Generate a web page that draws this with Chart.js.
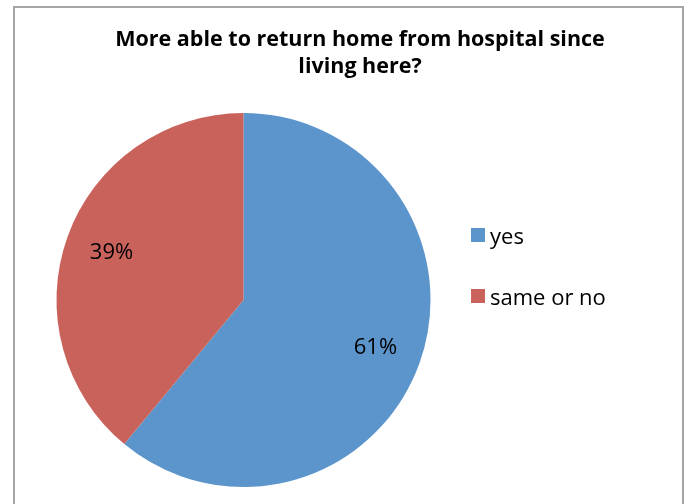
<!DOCTYPE html>
<html>
<head>
<meta charset="utf-8">
<script src="https://cdn.jsdelivr.net/npm/chart.js@4/dist/chart.umd.min.js"></script>
<style>
html,body{margin:0;padding:0;background:#fff;}
#wrap{position:absolute;left:0;top:0;width:689px;height:504px;}
</style>
</head>
<body>
<div id="wrap"><canvas id="c" width="689" height="504"></canvas></div>
<script>
const titleLines = ["More able to return home from hospital since", "living here?"];
const categories = ["yes", "same or no"];
const values = [61, 39];
const colors = ["#5C95CB", "#CA625C"];
const FONT = "'Open Sans', 'Liberation Sans', sans-serif";

const decor = {
  id: 'decor',
  beforeDraw(chart) {
    const ctx = chart.ctx;
    ctx.save();
    ctx.fillStyle = '#fff';
    ctx.fillRect(0, 0, chart.width, chart.height);
    ctx.strokeStyle = '#a5a5a5';
    ctx.lineWidth = 2;
    ctx.strokeRect(14, 7, 669, 540);
    ctx.restore();
  },
  afterDraw(chart) {
    const ctx = chart.ctx;
    ctx.save();
    // title
    ctx.fillStyle = '#000';
    ctx.textAlign = 'center';
    ctx.textBaseline = 'alphabetic';
    ctx.font = "bold 21.5px " + FONT;
    ctx.fillText(titleLines[0], 360, 46);
    ctx.fillText(titleLines[1], 360, 73);
    // slice labels
    const meta = chart.getDatasetMeta(0);
    const total = values.reduce((a, b) => a + b, 0);
    ctx.font = "22px " + FONT;
    ctx.textBaseline = 'middle';
    meta.data.forEach((arc, i) => {
      const p = arc.getProps(['x', 'y', 'startAngle', 'endAngle', 'outerRadius'], true);
      const mid = (p.startAngle + p.endAngle) / 2;
      const r = p.outerRadius * 0.75;
      const pct = Math.round(values[i] / total * 100) + '%';
      ctx.fillText(pct, p.x + Math.cos(mid) * r, p.y + Math.sin(mid) * r);
    });
    // legend
    ctx.textAlign = 'left';
    ctx.textBaseline = 'alphabetic';
    ctx.font = "22px " + FONT;
    categories.forEach((c, i) => {
      const y = 228 + i * 61;
      ctx.fillStyle = colors[i];
      ctx.fillRect(471, y, 14, 14);
      ctx.fillStyle = '#000';
      ctx.fillText(c, 490, y + 16);
    });
    ctx.restore();
  }
};

new Chart(document.getElementById('c'), {
  type: 'pie',
  data: {
    labels: categories,
    datasets: [{
      data: values,
      backgroundColor: colors,
      borderWidth: 0
    }]
  },
  options: {
    responsive: false,
    animation: false,
    rotation: 0,
    layout: { padding: { left: 56.5, right: 258.5, top: 113, bottom: 17 } },
    plugins: {
      legend: { display: false },
      title: { display: false },
      tooltip: { enabled: false }
    }
  },
  plugins: [decor]
});
</script>
</body>
</html>
